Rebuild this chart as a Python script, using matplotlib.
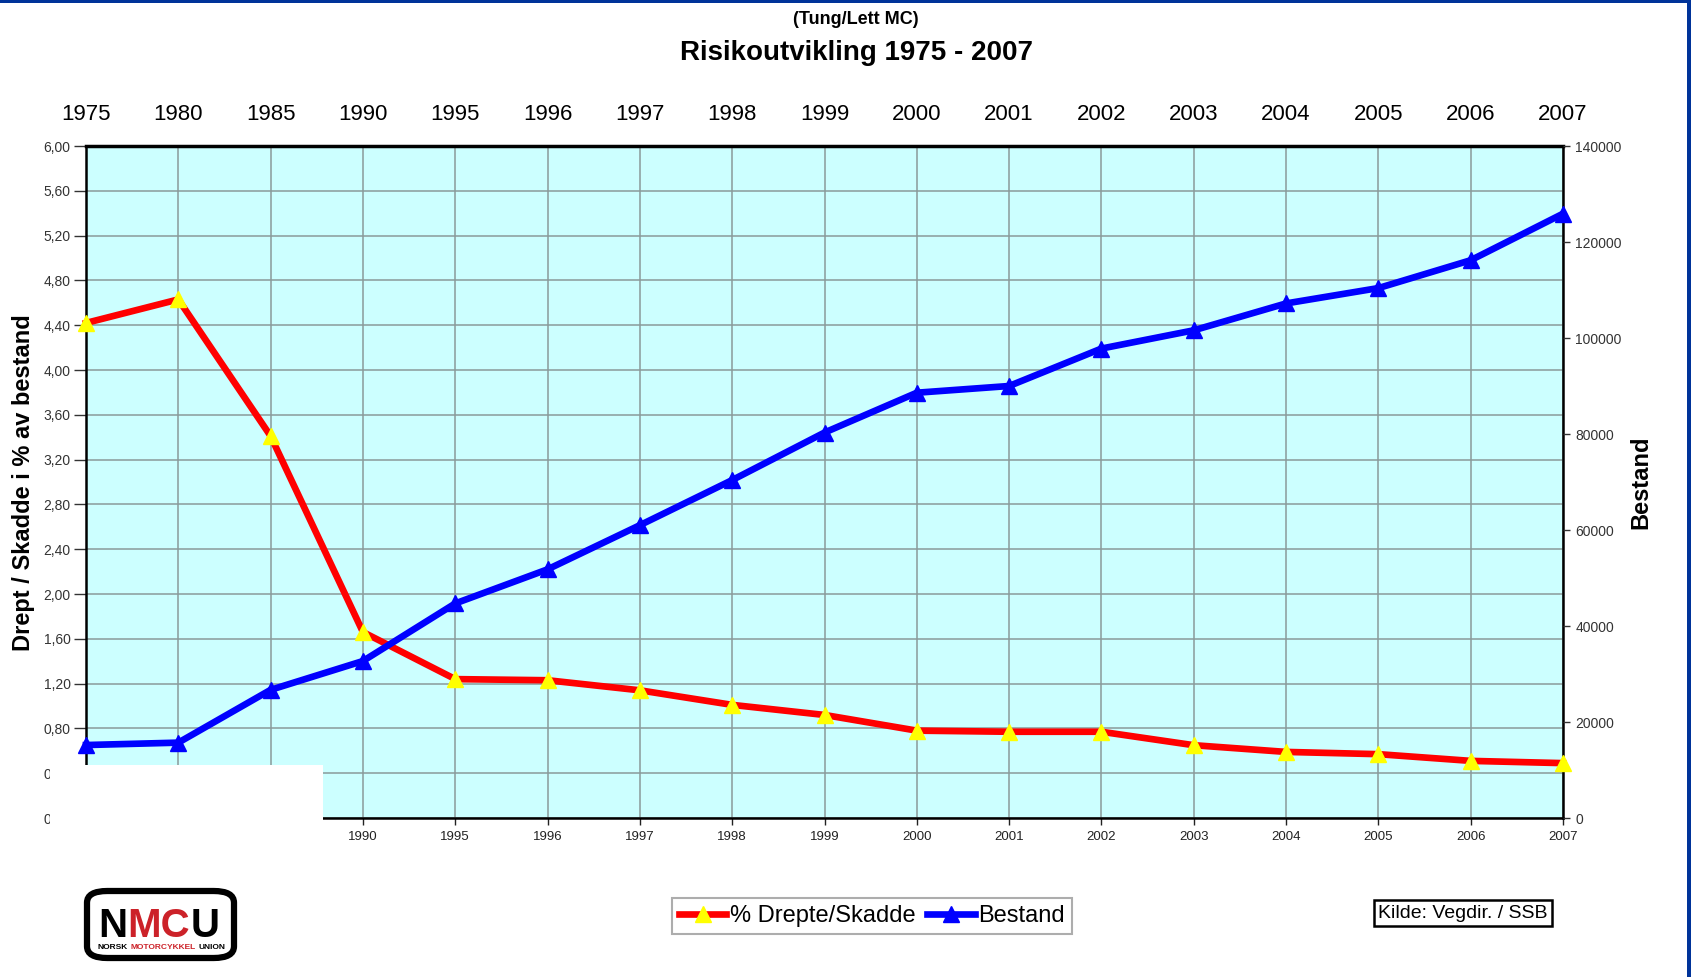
import matplotlib
matplotlib.use("Agg")
import matplotlib.pyplot as plt
from matplotlib.patches import Rectangle, FancyBboxPatch
from matplotlib.lines import Line2D
from matplotlib.ticker import FixedLocator, FuncFormatter

plt.rcParams['font.family'] = ['Liberation Sans', 'DejaVu Sans']

years = ['1975', '1980', '1985', '1990', '1995', '1996', '1997', '1998', '1999',
         '2000', '2001', '2002', '2003', '2004', '2005', '2006', '2007']
# % killed/injured of the fleet (left axis)
drepte_skadde = [4.42, 4.63, 3.41, 1.66, 1.24, 1.23, 1.14, 1.01, 0.92,
                 0.78, 0.77, 0.77, 0.65, 0.59, 0.57, 0.51, 0.49]
# number of motorcycles (right axis)
bestand = [15200, 15700, 26700, 32700, 44700, 51800, 61000, 70400, 80300,
           88600, 90000, 97800, 101600, 107200, 110400, 116200, 125900]

left_ticks = [0.0, 0.4, 0.8, 1.2, 1.6, 2.0, 2.4, 2.8, 3.2, 3.6, 4.0, 4.4, 4.8, 5.2, 5.6, 6.0]
right_ticks = [0, 20000, 40000, 60000, 80000, 100000, 120000, 140000]

W, H = 1691, 977
fig = plt.figure(figsize=(W / 100, H / 100), dpi=100)
fig.patch.set_facecolor('white')

ax = fig.add_axes([86 / W, 1 - 818 / H, (1563 - 86) / W, (818 - 146) / H])
ax.set_facecolor('#CCFFFF')
x = list(range(len(years)))

ax.set_xlim(0, len(years) - 1)
ax.set_ylim(0, 6)
ax.set_xticks(x)
ax.set_xticklabels(years, fontsize=9.5, color='#222222')
ax.yaxis.set_major_locator(FixedLocator(left_ticks))
ax.yaxis.set_major_formatter(FuncFormatter(lambda v, p: f"{v:.2f}".replace('.', ',')))
ax.tick_params(axis='y', labelsize=10, colors='#333333', length=9, width=1, pad=2)
ax.tick_params(axis='x', length=5, width=1, pad=4, colors='#222222')
ax.grid(True, color='#8a9a9a', linewidth=1.1)
ax.set_axisbelow(True)
for s in ax.spines.values():
    s.set_color('black')
    s.set_linewidth(1.8)
ax.spines['top'].set_linewidth(2.5)

fig.text(24 / W, 1 - 483 / H, 'Drept / Skadde i % av bestand', rotation=90,
         fontsize=17, fontweight='bold', ha='center', va='center')

# top year labels
top = ax.secondary_xaxis('top')
top.set_xticks(x)
top.set_xticklabels(years, fontsize=16)
top.tick_params(length=0, pad=15)
top.spines['top'].set_visible(False)

ax.plot(x, drepte_skadde, color='#FF0000', lw=4.8, marker='^', markersize=12,
        markerfacecolor='#FFFF00', markeredgecolor='#FFFF00', clip_on=False, zorder=3)

ax2 = ax.twinx()
ax2.set_ylim(0, 140000)
ax2.yaxis.set_major_locator(FixedLocator(right_ticks))
ax2.tick_params(axis='y', labelsize=10, colors='#333333', length=5, width=1, pad=4)
for s in ax2.spines.values():
    s.set_visible(False)
ax2.plot(x, bestand, color='#0000FF', lw=4.8, marker='^', markersize=12,
         markerfacecolor='#0000FF', markeredgecolor='#0000FF', clip_on=False, zorder=3)
fig.text(1641 / W, 1 - 482 / H, 'Bestand', rotation=90, fontsize=17,
         fontweight='bold', ha='center', va='center')

# titles
fig.text(0.5063, 1 - 20 / H, '(Tung/Lett MC)', fontsize=13, fontweight='bold',
         ha='center', va='center')
fig.text(0.5063, 1 - 53 / H, 'Risikoutvikling 1975 - 2007', fontsize=20,
         fontweight='bold', ha='center', va='center')

# white patch covering the lower left corner of the plot and its labels
fig.add_artist(Rectangle((50 / W, 1 - 860 / H), (323 - 50) / W, (860 - 765) / H,
                         transform=fig.transFigure, facecolor='white',
                         edgecolor='none', zorder=10))

# legend
handles = [Line2D([], [], color='#FF0000', lw=4.8, marker='^', markersize=12,
                  markerfacecolor='#FFFF00', markeredgecolor='#FFFF00'),
           Line2D([], [], color='#0000FF', lw=4.8, marker='^', markersize=12,
                  markerfacecolor='#0000FF', markeredgecolor='#0000FF')]
leg = fig.legend(handles, ['% Drepte/Skadde', 'Bestand'], loc='center',
                 bbox_to_anchor=(872 / W, 1 - 916 / H), ncol=2, fontsize=17,
                 frameon=True, fancybox=False, edgecolor='#999999',
                 handlelength=2.0, handletextpad=0.15, columnspacing=0.5,
                 borderpad=0.3, borderaxespad=0)
leg.get_frame().set_linewidth(1.5)

# source box
fig.text(1463 / W, 1 - 913 / H, 'Kilde: Vegdir. / SSB', fontsize=14, ha='center',
         va='center', bbox=dict(boxstyle='square,pad=0.22', facecolor='white',
                                edgecolor='black', linewidth=1.8))

# NMCU logo
fig.add_artist(FancyBboxPatch((87 / W, 1 - 958 / H), (234 - 87) / W, (958 - 891) / H,
                              boxstyle='round,pad=0,rounding_size=0.012',
                              transform=fig.transFigure, facecolor='white',
                              edgecolor='black', linewidth=4.5, zorder=5))
renderer = fig.canvas.get_renderer()


def colored_text(x0, y0, parts, gap=1.5, **kw):
    xp = x0
    for txt, col in parts:
        t = fig.text(xp, y0, txt, color=col, ha='left', va='baseline', zorder=6, **kw)
        bb = t.get_window_extent(renderer=renderer)
        xp += (bb.width + gap) / W


colored_text(98 / W, 1 - 937 / H, [('N', 'black'), ('MC', '#CC2229'), ('U', 'black')],
             gap=0.5, fontsize=29, fontweight='heavy')
colored_text(98 / W, 1 - 949 / H, [('NORSK', 'black'), ('MOTORCYKKEL', '#CC2229'),
                                    ('UNION', 'black')],
             gap=2.5, fontsize=6, fontweight='bold')

# blue frame edges
fig.add_artist(Rectangle((0, 1 - 3 / H), 1, 3 / H, transform=fig.transFigure,
                         facecolor='#003399', edgecolor='none', zorder=20))
fig.add_artist(Rectangle((1687 / W, 0), 4 / W, 1, transform=fig.transFigure,
                         facecolor='#003399', edgecolor='none', zorder=20))

fig.savefig('out.png', dpi=100)
